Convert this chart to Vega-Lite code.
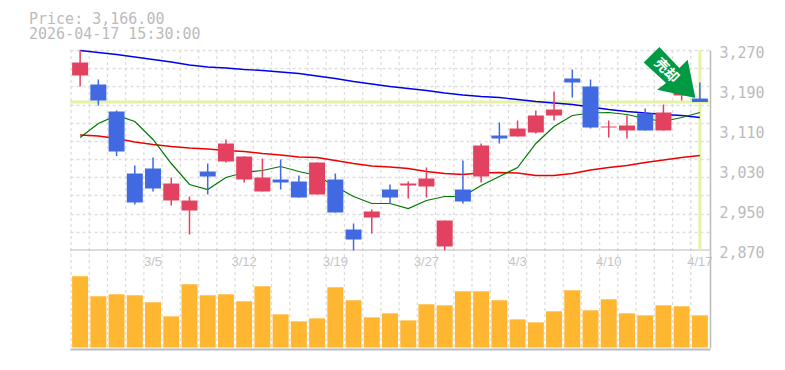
{"$schema":"https://vega.github.io/schema/vega-lite/v6.json","width":640,"height":299,"autosize":{"type":"none"},"padding":{"left":70,"top":50,"right":75,"bottom":21},"background":"white","title":{"text":["Price: 3,166.00","2026-04-17 15:30:00"],"anchor":"start","frame":"group","dx":-41,"offset":4,"font":"DejaVu Sans Mono","fontSize":15,"fontWeight":"normal","color":"#bbbbbb","lineHeight":15},"config":{"view":{"stroke":null},"axis":{"labelFont":"DejaVu Sans Mono"}},"datasets":{"d":[{"date":"2/27","open":3219,"close":3245,"high":3270,"low":3197,"dir":"up","vol":71,"ma5":3095,"ma25":3100,"ma75":3269},{"date":"3/2","open":3201,"close":3169,"high":3211,"low":3159,"dir":"down","vol":51,"ma5":3123,"ma25":3098,"ma75":3265},{"date":"3/3","open":3147,"close":3067,"high":3149,"low":3058,"dir":"down","vol":53,"ma5":3139,"ma25":3093,"ma75":3261},{"date":"3/4","open":3023,"close":2965,"high":3039,"low":2961,"dir":"down","vol":52,"ma5":3127,"ma25":3086,"ma75":3256},{"date":"3/5","open":3033,"close":2993,"high":3055,"low":2987,"dir":"down","vol":45,"ma5":3091,"ma25":3081,"ma75":3251},{"date":"3/6","open":2969,"close":3003,"high":3015,"low":2959,"dir":"up","vol":31,"ma5":3043,"ma25":3077,"ma75":3246},{"date":"3/9","open":2949,"close":2969,"high":2977,"low":2901,"dir":"up","vol":63,"ma5":3001,"ma25":3074,"ma75":3240},{"date":"3/10","open":3027,"close":3017,"high":3043,"low":2981,"dir":"down","vol":52,"ma5":2991,"ma25":3072,"ma75":3236},{"date":"3/11","open":3047,"close":3083,"high":3091,"low":3045,"dir":"up","vol":53,"ma5":3015,"ma25":3069,"ma75":3234},{"date":"3/12","open":3011,"close":3057,"high":3057,"low":3005,"dir":"up","vol":46,"ma5":3025,"ma25":3067,"ma75":3231},{"date":"3/13","open":2987,"close":3015,"high":3053,"low":2987,"dir":"up","vol":61,"ma5":3029,"ma25":3063,"ma75":3229},{"date":"3/16","open":3011,"close":3005,"high":3051,"low":2991,"dir":"down","vol":33,"ma5":3037,"ma25":3060,"ma75":3226},{"date":"3/17","open":3007,"close":2975,"high":3019,"low":2975,"dir":"down","vol":26,"ma5":3027,"ma25":3056,"ma75":3223},{"date":"3/18","open":2981,"close":3045,"high":3045,"low":2981,"dir":"up","vol":29,"ma5":3019,"ma25":3055,"ma75":3218},{"date":"3/19","open":3011,"close":2945,"high":3023,"low":2945,"dir":"down","vol":60,"ma5":2997,"ma25":3049,"ma75":3213},{"date":"3/23","open":2911,"close":2891,"high":2923,"low":2869,"dir":"down","vol":47,"ma5":2977,"ma25":3043,"ma75":3207},{"date":"3/24","open":2935,"close":2947,"high":2951,"low":2903,"dir":"up","vol":30,"ma5":2963,"ma25":3038,"ma75":3202},{"date":"3/25","open":2991,"close":2975,"high":3001,"low":2963,"dir":"down","vol":34,"ma5":2963,"ma25":3036,"ma75":3197},{"date":"3/26","open":2999,"close":3003,"high":3007,"low":2973,"dir":"up","vol":27,"ma5":2953,"ma25":3033,"ma75":3193},{"date":"3/27","open":2997,"close":3013,"high":3035,"low":2975,"dir":"up","vol":43,"ma5":2969,"ma25":3027,"ma75":3189},{"date":"3/30","open":2877,"close":2929,"high":2929,"low":2869,"dir":"up","vol":42,"ma5":2977,"ma25":3023,"ma75":3184},{"date":"3/31","open":2991,"close":2967,"high":3049,"low":2963,"dir":"down","vol":56,"ma5":2977,"ma25":3021,"ma75":3180},{"date":"4/1","open":3017,"close":3079,"high":3083,"low":3005,"dir":"up","vol":56,"ma5":2999,"ma25":3024,"ma75":3177},{"date":"4/2","open":3099,"close":3093,"high":3125,"low":3083,"dir":"down","vol":47,"ma5":3017,"ma25":3025,"ma75":3175},{"date":"4/3","open":3097,"close":3113,"high":3129,"low":3097,"dir":"up","vol":28,"ma5":3035,"ma25":3024,"ma75":3171},{"date":"4/6","open":3105,"close":3139,"high":3149,"low":3103,"dir":"up","vol":25,"ma5":3083,"ma25":3019,"ma75":3167},{"date":"4/7","open":3139,"close":3151,"high":3187,"low":3129,"dir":"up","vol":36,"ma5":3117,"ma25":3019,"ma75":3164},{"date":"4/8","open":3213,"close":3205,"high":3231,"low":3175,"dir":"down","vol":57,"ma5":3139,"ma25":3023,"ma75":3161},{"date":"4/9","open":3197,"close":3115,"high":3211,"low":3113,"dir":"down","vol":37,"ma5":3144,"ma25":3030,"ma75":3156},{"date":"4/10","open":3115,"close":3117,"high":3129,"low":3095,"dir":"up","vol":48,"ma5":3145,"ma25":3035,"ma75":3151},{"date":"4/13","open":3109,"close":3119,"high":3139,"low":3093,"dir":"up","vol":34,"ma5":3141,"ma25":3039,"ma75":3147},{"date":"4/14","open":3143,"close":3109,"high":3153,"low":3109,"dir":"down","vol":32,"ma5":3133,"ma25":3045,"ma75":3144},{"date":"4/15","open":3109,"close":3145,"high":3161,"low":3109,"dir":"up","vol":42,"ma5":3127,"ma25":3050,"ma75":3141},{"date":"4/16","open":3179,"close":3195,"high":3195,"low":3169,"dir":"up","vol":41,"ma5":3135,"ma25":3055,"ma75":3139},{"date":"4/17","open":3173,"close":3166,"high":3205,"low":3166,"dir":"down","vol":32,"ma5":3145,"ma25":3059,"ma75":3135}]},"data":{"name":"d"},"resolve":{"scale":{"y":"independent"},"axis":{"y":"independent"}},"layer":[{"mark":{"type":"rule","color":"#dddddd","strokeDash":[3,3],"strokeWidth":1.3},"encoding":{"x":{"field":"date","type":"nominal","sort":null,"bandPosition":0,"scale":{"domain":["2/27","3/2","3/3","3/4","3/5","3/6","3/9","3/10","3/11","3/12","3/13","3/16","3/17","3/18","3/19","3/23","3/24","3/25","3/26","3/27","3/30","3/31","4/1","4/2","4/3","4/6","4/7","4/8","4/9","4/10","4/13","4/14","4/15","4/16","4/17"],"paddingInner":0,"paddingOuter":0.055},"axis":{"title":null,"values":["3/5","3/12","3/19","3/27","4/3","4/10","4/17"],"orient":"bottom","bandPosition":0.5,"labelAngle":0,"labelColor":"#c4c4c4","labelFontSize":13,"labelFont":"Liberation Sans","labelPadding":-94,"labelBaseline":"top","ticks":false,"domain":true,"domainColor":"#bbbbbb","domainWidth":2,"grid":false,"labelFlush":false,"labelOverlap":false}}}},{"data":{"values":[{"p":3000}]},"mark":{"type":"rule","opacity":0},"encoding":{"y":{"field":"p","type":"quantitative","scale":{"domain":[2870,3270],"range":[200,0]},"axis":{"title":null,"orient":"left","values":[3270,3233.64,3197.27,3160.91,3124.55,3088.18,3051.82,3015.45,2979.09,2942.73,2906.36],"labels":false,"ticks":false,"domain":false,"grid":true,"gridColor":"#dddddd","gridDash":[3,3],"gridWidth":1.3}}}},{"mark":{"type":"rule","color":"#bbbbbb","strokeWidth":1},"data":{"values":[{"p":2870}]},"encoding":{"y":{"field":"p","type":"quantitative","scale":{"domain":[2870,3270],"range":[200,0]},"axis":{"title":null,"orient":"right","values":[3270,3190,3110,3030,2950,2870],"format":",d","labelColor":"#bbbbbb","labelFontSize":15,"labelPadding":9,"labelOffset":2.5,"labelFlush":false,"labelOverlap":false,"ticks":false,"domain":true,"domainColor":"#bbbbbb","domainWidth":1.5,"grid":false}}}},{"mark":{"type":"bar","size":16,"color":"#ffb732"},"encoding":{"x":{"field":"date","type":"nominal","sort":null},"y":{"field":"vol","type":"quantitative","scale":{"domain":[0,97],"range":[297.5,200]},"axis":{"title":null,"orient":"right","labels":false,"ticks":false,"grid":false,"domain":true,"domainColor":"#bbbbbb","domainWidth":1.5}}}},{"data":{"values":[{"p":3166}]},"mark":{"type":"rule","color":"#e4f2a6","strokeWidth":3},"encoding":{"y":{"field":"p","type":"quantitative","scale":{"domain":[2870,3270],"range":[200,0]},"axis":null}}},{"data":{"values":[{"date":"4/17"}]},"mark":{"type":"rule","color":"#e4f2a6","strokeWidth":3,"y":0,"y2":200},"encoding":{"x":{"field":"date","type":"nominal","sort":null}}},{"mark":{"type":"line","color":"#0000ee","strokeWidth":1.4},"encoding":{"x":{"field":"date","type":"nominal","sort":null},"y":{"field":"ma75","type":"quantitative","scale":{"domain":[2870,3270],"range":[200,0]},"axis":null}}},{"mark":{"type":"line","color":"#ee0000","strokeWidth":1.4},"encoding":{"x":{"field":"date","type":"nominal","sort":null},"y":{"field":"ma25","type":"quantitative","scale":{"domain":[2870,3270],"range":[200,0]},"axis":null}}},{"mark":{"type":"line","color":"#007700","strokeWidth":1.2},"encoding":{"x":{"field":"date","type":"nominal","sort":null},"y":{"field":"ma5","type":"quantitative","scale":{"domain":[2870,3270],"range":[200,0]},"axis":null}}},{"mark":{"type":"rule","strokeWidth":1.5},"encoding":{"x":{"field":"date","type":"nominal","sort":null},"y":{"field":"high","type":"quantitative","scale":{"domain":[2870,3270],"range":[200,0]},"axis":null},"y2":{"field":"low"},"color":{"field":"dir","type":"nominal","legend":null,"scale":{"domain":["up","down"],"range":["#e2425f","#4169e1"]}}}},{"mark":{"type":"bar","size":16},"encoding":{"x":{"field":"date","type":"nominal","sort":null},"y":{"field":"open","type":"quantitative","scale":{"domain":[2870,3270],"range":[200,0]},"axis":null},"y2":{"field":"close"},"color":{"field":"dir","type":"nominal","legend":null,"scale":{"domain":["up","down"],"range":["#e2425f","#4169e1"]}}}},{"data":{"values":[{"date":"4/17","p":3174}]},"mark":{"type":"point","filled":true,"opacity":1,"color":"#009a44","size":10000,"shape":"M-0.81 -1.02 L-1.124 -0.712 L-0.676 -0.3 L-0.856 -0.166 L-0.09 0 L-0.244 -0.766 L-0.41 -0.6 Z"},"encoding":{"x":{"field":"date","type":"nominal","sort":null},"y":{"field":"p","type":"quantitative","scale":{"domain":[2870,3270],"range":[200,0]},"axis":null}}},{"data":{"values":[{"date":"4/17","p":3174,"t":"売却"}]},"mark":{"type":"text","font":"Noto Sans CJK JP","fontWeight":"bold","fontSize":14,"color":"white","angle":45,"align":"center","baseline":"middle","dx":-43,"dy":4.7},"encoding":{"x":{"field":"date","type":"nominal","sort":null},"y":{"field":"p","type":"quantitative","scale":{"domain":[2870,3270],"range":[200,0]},"axis":null},"text":{"field":"t"}}}]}
